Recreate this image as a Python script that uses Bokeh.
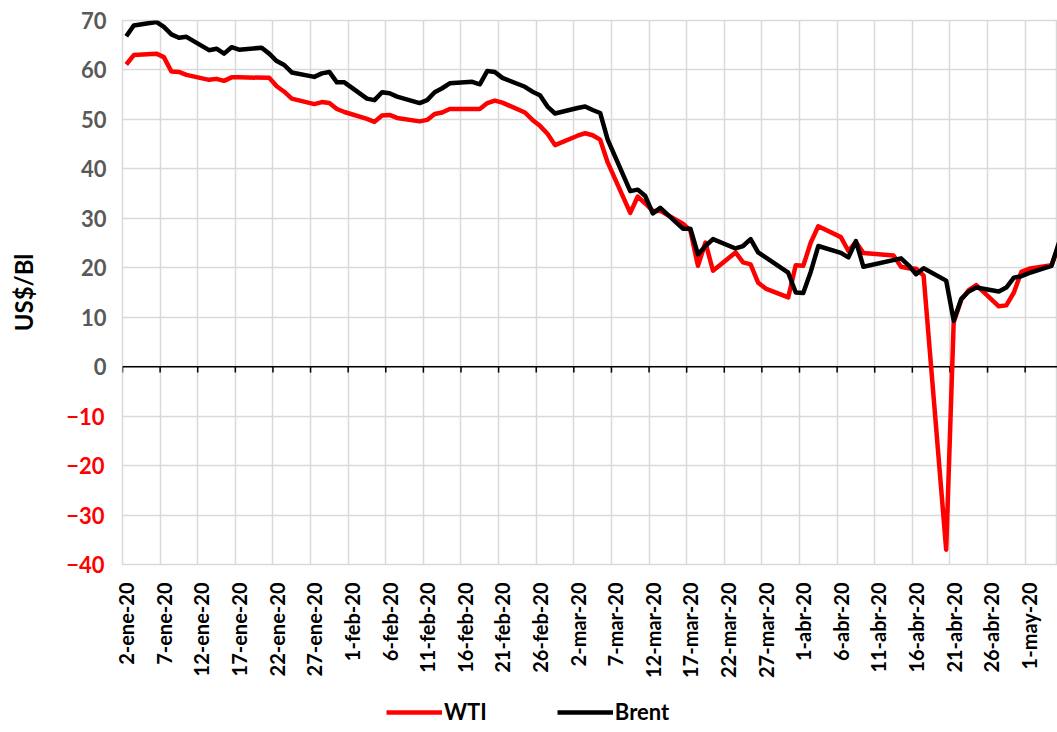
import math
import pandas as pd
from bokeh.plotting import figure
from bokeh.layouts import column
from bokeh.models import Range1d, FixedTicker, Legend, LegendItem, LinearAxis, Span
from bokeh.embed import file_html
from bokeh.resources import INLINE

# ---------------- data ----------------
wti_dates = [
    "2020-01-02", "2020-01-03", "2020-01-06", "2020-01-07", "2020-01-08", "2020-01-09", "2020-01-10",
    "2020-01-13", "2020-01-14", "2020-01-15", "2020-01-16", "2020-01-17",
    "2020-01-21", "2020-01-22", "2020-01-23", "2020-01-24",
    "2020-01-27", "2020-01-28", "2020-01-29", "2020-01-30", "2020-01-31",
    "2020-02-03", "2020-02-04", "2020-02-05", "2020-02-06", "2020-02-07",
    "2020-02-10", "2020-02-11", "2020-02-12", "2020-02-13", "2020-02-14",
    "2020-02-18", "2020-02-19", "2020-02-20", "2020-02-21",
    "2020-02-24", "2020-02-25", "2020-02-26", "2020-02-27", "2020-02-28",
    "2020-03-02", "2020-03-03", "2020-03-04", "2020-03-05", "2020-03-06",
    "2020-03-09", "2020-03-10", "2020-03-11", "2020-03-12", "2020-03-13",
    "2020-03-16", "2020-03-17", "2020-03-18", "2020-03-19", "2020-03-20",
    "2020-03-23", "2020-03-24", "2020-03-25", "2020-03-26", "2020-03-27",
    "2020-03-30", "2020-03-31", "2020-04-01", "2020-04-02", "2020-04-03",
    "2020-04-06", "2020-04-07", "2020-04-08", "2020-04-09",
    "2020-04-13", "2020-04-14", "2020-04-15", "2020-04-16", "2020-04-17",
    "2020-04-20", "2020-04-21", "2020-04-22", "2020-04-23", "2020-04-24",
    "2020-04-27", "2020-04-28", "2020-04-29", "2020-04-30", "2020-05-01",
    "2020-05-04", "2020-05-05",
]
wti_values = [
    61.1, 63.0, 63.3, 62.6, 59.7, 59.6, 59.0,
    58.0, 58.2, 57.8, 58.5, 58.5,
    58.4, 56.7, 55.6, 54.2,
    53.1, 53.5, 53.3, 52.1, 51.5,
    50.1, 49.5, 50.8, 50.9, 50.3,
    49.6, 49.9, 51.1, 51.4, 52.1,
    52.1, 53.3, 53.8, 53.4,
    51.4, 49.9, 48.7, 47.1, 44.8,
    46.7, 47.2, 46.8, 45.9, 41.3,
    31.1, 34.4, 33.0, 31.5, 31.5,
    28.9, 27.5, 20.4, 25.1, 19.4,
    23.1, 21.1, 20.7, 17.0, 15.8,
    14.0, 20.5, 20.4, 25.1, 28.4,
    26.2, 23.4, 25.2, 23.0,
    22.5, 20.2, 19.9, 19.8, 18.4,
    -37.0, 9.0, 13.5, 15.5, 16.5,
    12.2, 12.4, 15.0, 19.2, 19.8,
    20.5, 24.6,
]

brent_dates = [
    "2020-01-02", "2020-01-03", "2020-01-06", "2020-01-07", "2020-01-08", "2020-01-09", "2020-01-10",
    "2020-01-13", "2020-01-14", "2020-01-15", "2020-01-16", "2020-01-17",
    "2020-01-20", "2020-01-21", "2020-01-22", "2020-01-23", "2020-01-24",
    "2020-01-27", "2020-01-28", "2020-01-29", "2020-01-30", "2020-01-31",
    "2020-02-03", "2020-02-04", "2020-02-05", "2020-02-06", "2020-02-07",
    "2020-02-10", "2020-02-11", "2020-02-12", "2020-02-13", "2020-02-14",
    "2020-02-17", "2020-02-18", "2020-02-19", "2020-02-20", "2020-02-21",
    "2020-02-24", "2020-02-25", "2020-02-26", "2020-02-27", "2020-02-28",
    "2020-03-02", "2020-03-03", "2020-03-04", "2020-03-05", "2020-03-06",
    "2020-03-09", "2020-03-10", "2020-03-11", "2020-03-12", "2020-03-13",
    "2020-03-16", "2020-03-17", "2020-03-18", "2020-03-19", "2020-03-20",
    "2020-03-23", "2020-03-24", "2020-03-25", "2020-03-26", "2020-03-27",
    "2020-03-30", "2020-03-31", "2020-04-01", "2020-04-02", "2020-04-03",
    "2020-04-06", "2020-04-07", "2020-04-08", "2020-04-09",
    "2020-04-14", "2020-04-15", "2020-04-16", "2020-04-17",
    "2020-04-20", "2020-04-21", "2020-04-22", "2020-04-23", "2020-04-24",
    "2020-04-27", "2020-04-28", "2020-04-29", "2020-04-30", "2020-05-01",
    "2020-05-04", "2020-05-05",
]
brent_values = [
    66.8, 69.0, 69.7, 68.7, 67.2, 66.5, 66.7,
    64.0, 64.3, 63.3, 64.6, 64.1,
    64.5, 63.3, 61.8, 61.0, 59.5,
    58.6, 59.3, 59.6, 57.5, 57.5,
    54.2, 53.9, 55.5, 55.3, 54.6,
    53.3, 53.9, 55.5, 56.3, 57.3,
    57.6, 57.1, 59.8, 59.6, 58.4,
    56.6, 55.6, 54.9, 52.6, 51.2,
    52.3, 52.6, 51.9, 51.3, 45.9,
    35.5, 35.8, 34.5, 31.0, 32.1,
    27.9, 27.9, 22.7, 24.4, 25.8,
    23.9, 24.4, 25.8, 23.1, 22.1,
    19.0, 15.0, 14.9, 19.2, 24.4,
    23.0, 22.1, 25.4, 20.2,
    21.9, 20.5, 18.7, 19.9,
    17.4, 9.3, 13.7, 15.2, 16.0,
    15.2, 16.0, 18.0, 18.3, 18.9,
    20.4, 25.1,
]

tick_dates = [
    "2020-01-02", "2020-01-07", "2020-01-12", "2020-01-17", "2020-01-22", "2020-01-27",
    "2020-02-01", "2020-02-06", "2020-02-11", "2020-02-16", "2020-02-21", "2020-02-26",
    "2020-03-02", "2020-03-07", "2020-03-12", "2020-03-17", "2020-03-22", "2020-03-27",
    "2020-04-01", "2020-04-06", "2020-04-11", "2020-04-16", "2020-04-21", "2020-04-26",
    "2020-05-01",
]
tick_labels = [
    "2-ene-20", "7-ene-20", "12-ene-20", "17-ene-20", "22-ene-20", "27-ene-20",
    "1-feb-20", "6-feb-20", "11-feb-20", "16-feb-20", "21-feb-20", "26-feb-20",
    "2-mar-20", "7-mar-20", "12-mar-20", "17-mar-20", "22-mar-20", "27-mar-20",
    "1-abr-20", "6-abr-20", "11-abr-20", "16-abr-20", "21-abr-20", "26-abr-20",
    "1-may-20",
]
y_ticks = [-40, -30, -20, -10, 0, 10, 20, 30, 40, 50, 60, 70]
series_names = ["WTI", "Brent"]
series_colors = ["#ff0000", "#000000"]

# ---------------- helpers ----------------
origin = pd.Timestamp("2020-01-02")


def day_index(dates):
    return [(pd.Timestamp(d) - origin).days for d in dates]


wti_x = day_index(wti_dates)
brent_x = day_index(brent_dates)
tick_x = day_index(tick_dates)
grid_x = [t - 0.5 for t in tick_x] + [tick_x[-1] + 4.5]
pos_ticks = [v for v in y_ticks if v >= 0]
neg_ticks = [v for v in y_ticks if v < 0]

FONT = "Lato"

p = figure(
    width=1057, height=680,
    x_range=Range1d(-0.5, 123.8), y_range=Range1d(-40, 70),
    output_backend="svg", toolbar_location=None,
    min_border_left=122, min_border_right=0, min_border_top=20, min_border_bottom=113,
)
p.background_fill_color = "white"
p.border_fill_color = "white"
p.outline_line_color = "#d9d9d9"
p.outline_line_width = 1.5

# grid
p.xgrid.ticker = FixedTicker(ticks=grid_x)
p.ygrid.ticker = FixedTicker(ticks=y_ticks)
p.xgrid.grid_line_color = "#d9d9d9"
p.ygrid.grid_line_color = "#d9d9d9"
p.xgrid.grid_line_width = 1.5
p.ygrid.grid_line_width = 1.5

# x axis
p.xaxis.ticker = FixedTicker(ticks=tick_x)
p.xaxis.major_label_overrides = {t: lab for t, lab in zip(tick_x, tick_labels)}
p.xaxis.major_label_orientation = math.pi / 2
p.xaxis.major_label_text_font = FONT
p.xaxis.major_label_text_font_style = "bold"
p.xaxis.major_label_text_font_size = "20px"
p.xaxis.major_label_text_color = "black"
p.xaxis.major_label_standoff = 12
p.xaxis.axis_line_color = None
p.xaxis.major_tick_line_color = None
p.xaxis.minor_tick_line_color = None

# inner y axis: negative labels in red
p.yaxis.ticker = FixedTicker(ticks=neg_ticks)
p.yaxis.major_label_text_font = FONT
p.yaxis.major_label_text_font_style = "bold"
p.yaxis.major_label_text_font_size = "22px"
p.yaxis.major_label_text_color = "#ff0000"
p.yaxis.major_label_standoff = 12
p.yaxis.axis_line_color = None
p.yaxis.major_tick_line_color = None
p.yaxis.minor_tick_line_color = None

# outer y axis: positive labels in gray, pulled back to line up with the red ones
pos_axis = LinearAxis(
    ticker=FixedTicker(ticks=pos_ticks),
    major_label_text_font=FONT, major_label_text_font_style="bold",
    major_label_text_font_size="22px", major_label_text_color="#595959",
    major_label_standoff=-49, axis_line_color=None,
    major_tick_line_color=None, minor_tick_line_color=None,
    axis_label="US$/Bl", axis_label_text_font=FONT, axis_label_text_font_style="bold",
    axis_label_text_font_size="24px", axis_label_text_color="black",
    axis_label_standoff=40,
)
p.add_layout(pos_axis, "left")

# zero line with tick marks
p.add_layout(Span(location=0, dimension="width", line_color="black", line_width=1.5, level="underlay"))
p.segment(x0=grid_x, y0=[0] * len(grid_x), x1=grid_x, y1=[-1.2] * len(grid_x),
          line_color="black", line_width=1.5)

p.line(wti_x, wti_values, line_color=series_colors[0], line_width=4.5, line_join="round")
p.line(brent_x, brent_values, line_color=series_colors[1], line_width=4.5, line_join="round")

# ---------------- legend strip ----------------
pl = figure(
    width=1057, height=52, x_range=Range1d(-1000, -999), y_range=Range1d(-1000, -999),
    output_backend="svg", toolbar_location=None,
    x_axis_location=None, y_axis_location=None,
    min_border_left=0, min_border_right=0, min_border_top=0, min_border_bottom=0,
)
pl.grid.visible = False
pl.outline_line_color = None
items = []
for name, col, xs, ys in zip(series_names, series_colors, [wti_x, brent_x], [wti_values, brent_values]):
    r = pl.line(xs, ys, line_color=col, line_width=4.5)
    items.append(LegendItem(label=name, renderers=[r]))
legend = Legend(
    items=items, orientation="horizontal", location=(264, 7),
    label_text_font=FONT, label_text_font_style="bold", label_text_font_size="22px",
    label_text_color="black",
    glyph_width=56, glyph_height=20, spacing=70, label_standoff=2,
    border_line_color=None, background_fill_alpha=0, margin=0, padding=6,
)
pl.add_layout(legend)

layout = column(p, pl, spacing=0)
open("out.html", "w").write(file_html(layout, INLINE))
